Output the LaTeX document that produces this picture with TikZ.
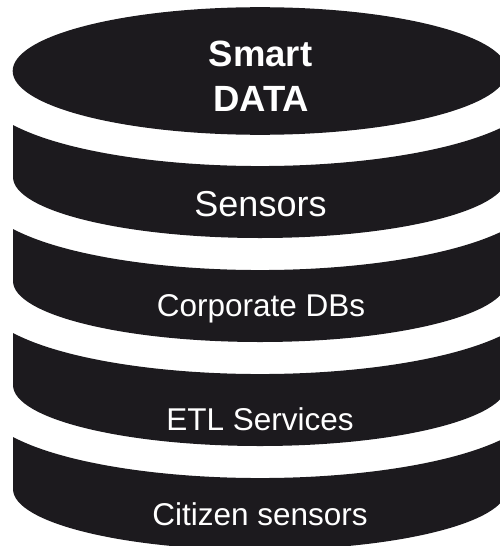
\documentclass[tikz,border=0pt]{standalone}
\usepackage{fontspec}
\setmainfont{Liberation Sans}
\definecolor{ink}{RGB}{28,26,30}
\begin{document}
\begin{tikzpicture}[x=1pt,y=-1pt,
  disk/.style={fill=ink},
  lbl/.style={text=white, inner sep=0pt, anchor=base},
  big/.style={font=\fontsize{36}{43}\selectfont},
  small/.style={font=\fontsize{31.5}{38}\selectfont}]
\useasboundingbox (0,0) rectangle (500,546);
\clip (0,0) rectangle (500,546);
% top lid
\fill[disk] (260,71) ellipse [x radius=247.3, y radius=63.8];
% stacked bands
\foreach \i in {0,1,2,3}{
  \fill[disk] (13,125+104*\i)
    arc[start angle=152.6, end angle=27.4, x radius=278, y radius=76]
    -- (507,177+104*\i)
    arc[start angle=0, end angle=180, x radius=247, y radius=61]
    -- cycle;
}
% labels
\node[lbl, font=\bfseries\fontsize{36.5}{44}\selectfont] (smart) at (260.5,66.7) {Smart};
\node[lbl, font=\bfseries\fontsize{36.5}{44}\selectfont] (data) at (261,111.7) {DATA};
\node[lbl, big] (sensors) at (260.5,216.7) {Sensors};
\node[lbl, small] (corp) at (261,316.7) {Corporate DBs};
\node[lbl, small] (etl) at (260,430.5) {ETL Services};
\node[lbl, small] (citizen) at (260,525) {Citizen sensors};
\end{tikzpicture}
\end{document}
